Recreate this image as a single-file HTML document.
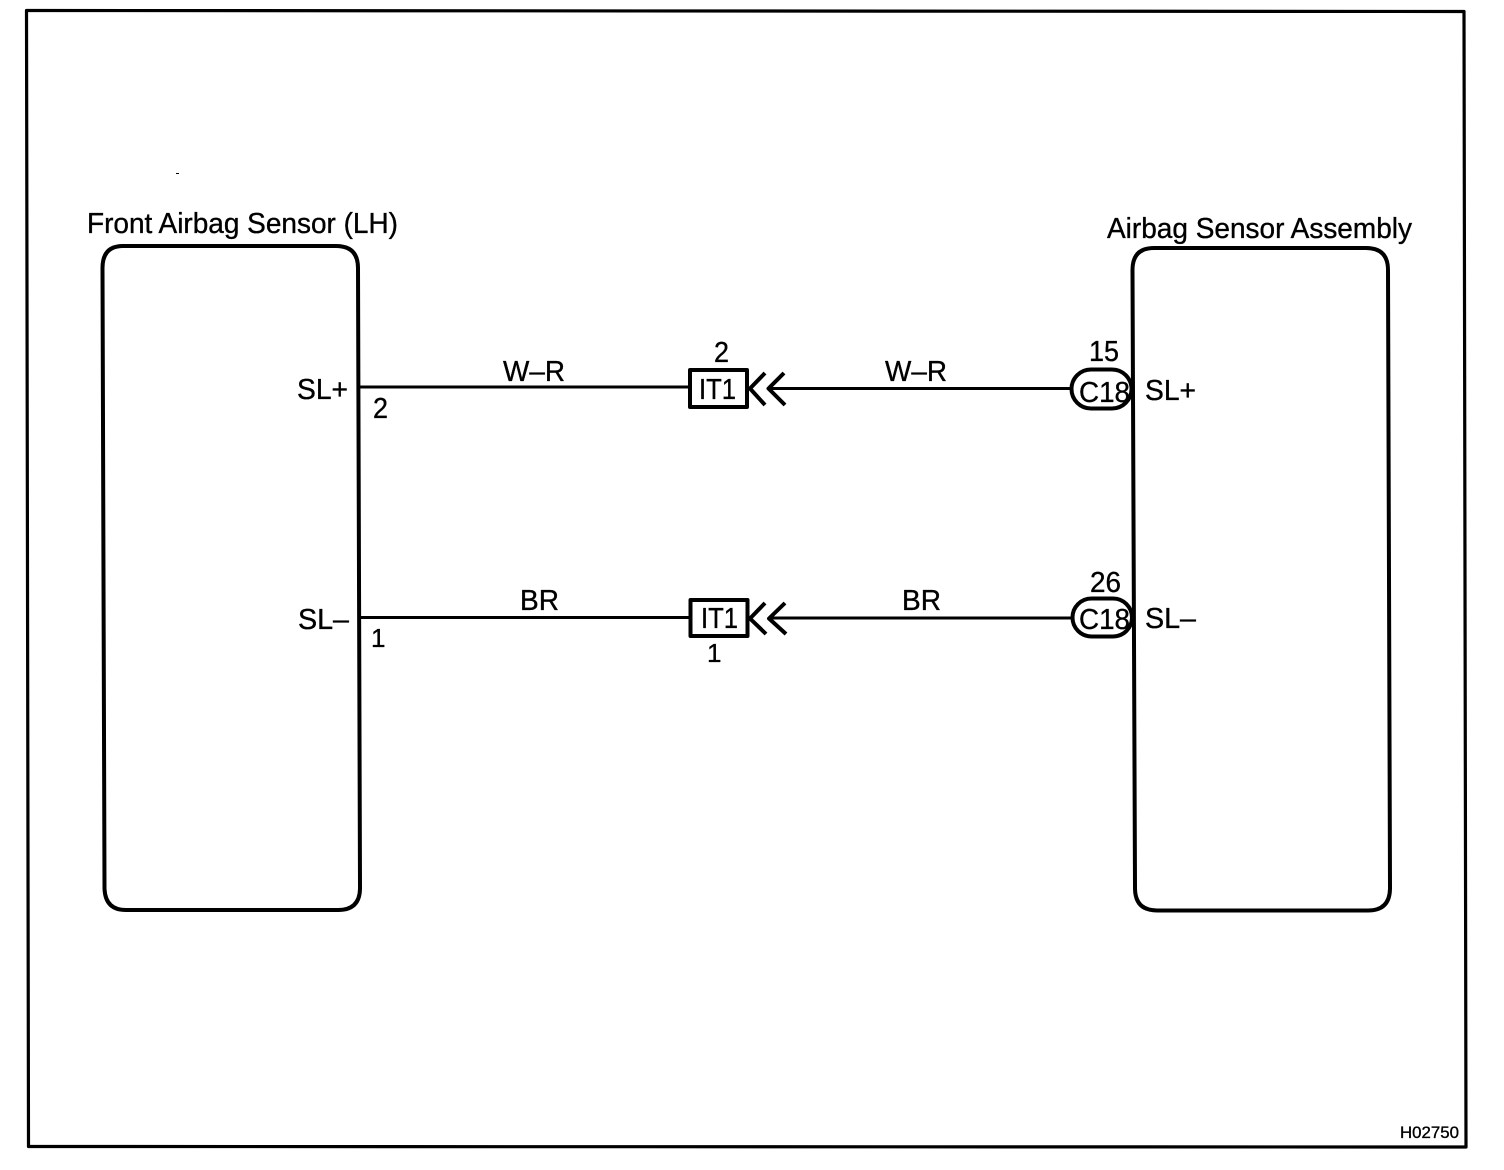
<!DOCTYPE html>
<html>
<head>
<meta charset="utf-8">
<style>
html,body{margin:0;padding:0;background:#fff}
svg{display:block}
text{font-family:"Liberation Sans",sans-serif;fill:#000;stroke:#000;stroke-width:.35}
</style>
</head>
<body>
<svg width="1504" height="1170" viewBox="0 0 1504 1170" xmlns="http://www.w3.org/2000/svg">
<rect width="1504" height="1170" fill="#fff"/>
<g fill="none" stroke="#000" stroke-linejoin="round">
<path d="M26.500 10.500 L1464 11.500 L1466 1147 L28.500 1146.500 Z" stroke-width="3.200"/>
<path d="M123 246 H336 Q358 246 358 268 L360 888 Q360 910 338 910 H126 Q105 910 104.500 888 L102.500 268 Q102.500 246 123 246 Z" stroke-width="4"/>
<path d="M1154 248 H1366 Q1388 248 1388 270 L1390 888 Q1390 910.500 1368 910.500 H1157 Q1135 910.500 1135 888 L1132.500 270 Q1132.500 248 1154 248 Z" stroke-width="4"/>
<path d="M359 387 H689 M770 388.500 H1071" stroke-width="3"/>
<path d="M359 617.500 H689 M770 618 H1072" stroke-width="3"/>
<rect x="690" y="370" width="57" height="37" stroke-width="4"/>
<rect x="690.500" y="600" width="57" height="36" stroke-width="4"/>
<path d="M765 373 L750 388.500 L765 405 M784 373 L768.500 388.500 L785 405" stroke-width="4"/>
<path d="M765 603 L750 618.500 L766 634 M785 603 L769 618.500 L786 634" stroke-width="4"/>
<rect x="1071.500" y="369.500" width="60" height="39" rx="19.500" stroke-width="4"/>
<rect x="1072.500" y="598.500" width="59.500" height="38" rx="19" stroke-width="4"/>
</g>
<rect x="176" y="173" width="3" height="1" fill="#000"/>
<g font-size="29">
<text x="87" y="233" textLength="311" lengthAdjust="spacingAndGlyphs">Front Airbag Sensor (LH)</text>
<text x="1107" y="238" textLength="305" lengthAdjust="spacingAndGlyphs">Airbag Sensor Assembly</text>
<text x="297" y="399" textLength="51" lengthAdjust="spacingAndGlyphs">SL+</text>
<text x="298" y="629" textLength="51" lengthAdjust="spacingAndGlyphs">SL–</text>
<text x="1145" y="400" textLength="51" lengthAdjust="spacingAndGlyphs">SL+</text>
<text x="1145" y="628" textLength="51" lengthAdjust="spacingAndGlyphs">SL–</text>
<text x="503" y="381" textLength="62" lengthAdjust="spacingAndGlyphs">W–R</text>
<text x="885" y="381" textLength="62" lengthAdjust="spacingAndGlyphs">W–R</text>
<text x="520" y="610" textLength="39" lengthAdjust="spacingAndGlyphs">BR</text>
<text x="902" y="610" textLength="39" lengthAdjust="spacingAndGlyphs">BR</text>
<text x="699" y="399" textLength="37" lengthAdjust="spacingAndGlyphs">IT1</text>
<text x="701" y="628" textLength="37" lengthAdjust="spacingAndGlyphs">IT1</text>
<text x="1079" y="402" textLength="51" lengthAdjust="spacingAndGlyphs">C18</text>
<text x="1079" y="629" textLength="51" lengthAdjust="spacingAndGlyphs">C18</text>
<text x="1089" y="361" textLength="30" lengthAdjust="spacingAndGlyphs">15</text>
<text x="1090" y="592" textLength="31" lengthAdjust="spacingAndGlyphs">26</text>
<text x="714" y="362" textLength="15" lengthAdjust="spacingAndGlyphs">2</text>
<text x="373" y="418" textLength="15" lengthAdjust="spacingAndGlyphs">2</text>
<text x="371" y="647" font-size="26">1</text>
<text x="707" y="662" font-size="26">1</text>
</g>
<text x="1400" y="1138" font-size="17" textLength="59" lengthAdjust="spacingAndGlyphs">H02750</text>
</svg>
</body>
</html>
